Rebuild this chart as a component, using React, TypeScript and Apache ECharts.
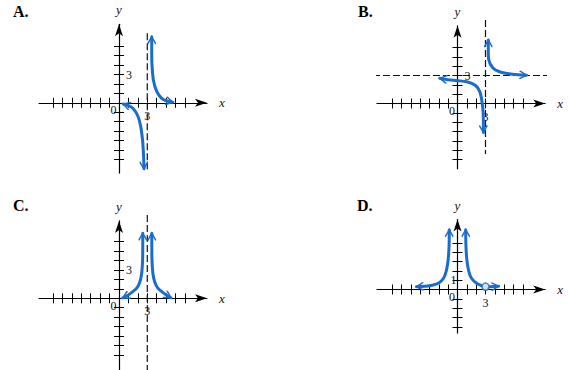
import React, { useEffect, useRef } from 'react';
import * as echarts from 'echarts';

// ---------- data ----------
const panelKeys = ['A.', 'B.', 'C.', 'D.'];

const xTicks = [-7, -6, -5, -4, -3, -2, -1, 1, 2, 3, 4, 5, 6, 7];
const yTicksABC = [-6, -5, -4, -3, -2, -1, 1, 2, 3, 4, 5, 6];
const yTicksD = [-4, -3, -2, -1, 1, 2, 3, 4, 5];
const xLabelVals = [3];
const yLabelValsABC = [3];
const yLabelValsD = [1];

// Panel A curves
const aLeft = [[0.45, -0.12], [1.0, -0.3], [1.5, -0.6], [2.0, -1.4], [2.3, -2.5], [2.5, -4.0], [2.6, -5.5], [2.65, -7.0]];
const aRight = [[3.47, 7.0], [3.47, 5.5], [3.5, 4.0], [3.65, 2.4], [4.0, 1.2], [4.5, 0.5], [5.0, 0.22], [5.7, 0.05]];
const aAsymV = [[3, 7.37], [3, -7.05]];

// Panel B curves
const bLeft = [[-1.9, 2.7], [-1.0, 2.55], [0.0, 2.45], [1.0, 2.33], [1.9, 1.95], [2.4, 1.25], [2.65, 0.0], [2.75, -1.0], [2.78, -3.1]];
const bRight = [[3.3, 6.8], [3.3, 5.7], [3.35, 4.7], [3.8, 3.8], [4.5, 3.4], [5.5, 3.18], [6.5, 3.08], [7.4, 3.04]];
const bAsymV = [[3, 8.95], [3, -5.4]];
const bAsymH = [[-9.06, 3], [9.6, 3]];

// Panel C curves
const cLeft = [[0.4, 0.05], [0.9, 0.3], [1.4, 0.65], [1.9, 1.1], [2.2, 1.7], [2.4, 2.6], [2.5, 4.0], [2.52, 5.5], [2.52, 6.9]];
const cRight = [[3.48, 6.9], [3.48, 5.5], [3.5, 4.0], [3.6, 2.6], [3.8, 1.7], [4.1, 1.1], [4.6, 0.65], [5.1, 0.3], [5.5, 0.05]];
const cAsymV = [[3, 8.83], [3, -7.6]];

// Panel D curves
const dLeft = [[-4.4, 0.3], [-3.5, 0.35], [-2.7, 0.45], [-2.0, 0.7], [-1.5, 1.2], [-1.2, 2.0], [-1.0, 3.2], [-0.9, 4.8], [-0.88, 6.4]];
const dRight = [[0.88, 6.4], [0.9, 4.8], [1.0, 3.2], [1.2, 2.0], [1.5, 1.2], [2.0, 0.7], [2.5, 0.45], [2.95, 0.3], [3.5, 0.3], [4.4, 0.35]];
const dHole = [[3, 0.3]];

// ---------- layout ----------
const BLUE = '#1a6dcc';
const SERIF = '"Liberation Serif", "DejaVu Serif", serif';
const CHEVRON = 'path://M0,0M0,14L5,7L10,14';

const panels = [
  { ox: 119, oy: 102.8, s: 9.43, xr: [-8.48, 9.33], yr: [-7.45, 8.33], yTicks: yTicksABC, yLabels: yLabelValsABC, yInside: true, tx: 13, ty: 11 },
  { ox: 457.5, oy: 103.5, s: 9.33, xr: [-8.63, 9.4], yr: [-7.0, 8.33], yTicks: yTicksABC, yLabels: yLabelValsABC, yInside: true, tx: 358, ty: 11 },
  { ox: 119, oy: 298.3, s: 9.43, xr: [-8.48, 9.33], yr: [-7.7, 8.2], yTicks: yTicksABC, yLabels: yLabelValsABC, yInside: true, tx: 13, ty: 205 },
  { ox: 457.5, oy: 289.5, s: 9.33, xr: [-8.63, 9.4], yr: [-4.66, 7.5], yTicks: yTicksD, yLabels: yLabelValsD, yInside: false, tx: 357, ty: 205 },
];

const curvesByPanel = [[aLeft, aRight], [bLeft, bRight], [cLeft, cRight], [dLeft, dRight]];
const asymByPanel = [[aAsymV], [bAsymV, bAsymH], [cAsymV], []];

function branchSeries(points: number[][], pi: number) {
  const n = points.length;
  const data = points.map((p, i) => {
    if (i === 0 || i === n - 1) {
      const q = i === 0 ? points[1] : points[n - 2];
      const ang = (Math.atan2(p[1] - q[1], p[0] - q[0]) * 180) / Math.PI;
      return {
        value: p,
        symbol: CHEVRON,
        symbolSize: [8, 14],
        symbolRotate: ang - 90,
        itemStyle: { color: 'transparent', borderColor: BLUE, borderWidth: 1.6 },
      };
    }
    return { value: p, symbol: 'none' };
  });
  return {
    type: 'line',
    xAxisIndex: pi * 2,
    yAxisIndex: pi * 2,
    data,
    smooth: 0.3,
    symbol: 'circle',
    showSymbol: true,
    clip: false,
    silent: true,
    z: 5,
    lineStyle: { color: BLUE, width: 3, cap: 'round', join: 'round' },
    itemStyle: { color: BLUE },
    emphasis: { disabled: true },
  };
}

function dashSeries(points: number[][], pi: number) {
  return {
    type: 'line',
    xAxisIndex: pi * 2,
    yAxisIndex: pi * 2,
    data: points,
    symbol: 'none',
    clip: false,
    silent: true,
    z: 3,
    lineStyle: { color: '#111', width: 1.2, type: [7, 3] },
    emphasis: { disabled: true },
  };
}

function buildOption() {
  const grid: any[] = [];
  const xAxis: any[] = [];
  const yAxis: any[] = [];
  const series: any[] = [];
  const graphic: any[] = [];

  panels.forEach((p, pi) => {
    grid.push({
      left: p.ox + p.xr[0] * p.s,
      top: p.oy - p.yr[1] * p.s,
      width: (p.xr[1] - p.xr[0]) * p.s,
      height: (p.yr[1] - p.yr[0]) * p.s,
      containLabel: false,
      outerBoundsMode: 'none',
    });
    const lineStyle = { color: '#000', width: 1.2 };
    const tickStyle = { color: '#000', width: 1 };
    const xOff = p.yr[0] * p.s; // shift bottom axis up to y = 0
    const yOff = p.xr[0] * p.s; // shift left axis right to x = 0
    // main x axis (ticks below, arrow, label, name)
    xAxis.push({
      type: 'value', gridIndex: pi, min: p.xr[0], max: p.xr[1], position: 'bottom', offset: xOff,
      axisLine: { show: true, onZero: false, symbol: ['none', 'arrow'], symbolSize: [6, 12], lineStyle },
      axisTick: { show: true, inside: false, length: 5, customValues: xTicks, lineStyle: tickStyle },
      axisLabel: { show: true, customValues: xLabelVals, margin: 7, fontFamily: SERIF, fontSize: 12, color: '#111' },
      splitLine: { show: false },
      name: 'x', nameLocation: 'end', nameGap: 12,
      nameTextStyle: { fontFamily: SERIF, fontStyle: 'italic', fontSize: 13, color: '#111', verticalAlign: 'middle' },
    });
    // secondary x axis (ticks above)
    xAxis.push({
      type: 'value', gridIndex: pi, min: p.xr[0], max: p.xr[1], position: 'bottom', offset: xOff,
      axisLine: { show: false, onZero: false },
      axisTick: { show: true, inside: true, length: 5, customValues: xTicks, lineStyle: tickStyle },
      axisLabel: { show: false },
      splitLine: { show: false },
    });
    yAxis.push({
      type: 'value', gridIndex: pi, min: p.yr[0], max: p.yr[1], position: 'left', offset: yOff,
      axisLine: { show: true, onZero: false, symbol: ['none', 'arrow'], symbolSize: [6, 12], lineStyle },
      axisTick: { show: true, inside: false, length: 5, customValues: p.yTicks, lineStyle: tickStyle },
      axisLabel: {
        show: true, customValues: p.yLabels, inside: p.yInside, margin: p.yInside ? 7 : 1,
        fontFamily: SERIF, fontSize: 12, color: '#111',
      },
      splitLine: { show: false },
      name: 'y', nameLocation: 'end', nameGap: 8,
      nameTextStyle: { fontFamily: SERIF, fontStyle: 'italic', fontSize: 13, color: '#111', align: 'center' },
    });
    yAxis.push({
      type: 'value', gridIndex: pi, min: p.yr[0], max: p.yr[1], position: 'left', offset: yOff,
      axisLine: { show: false, onZero: false },
      axisTick: { show: true, inside: true, length: 5, customValues: p.yTicks, lineStyle: tickStyle },
      axisLabel: { show: false },
      splitLine: { show: false },
    });

    asymByPanel[pi].forEach((a) => series.push(dashSeries(a, pi)));
    curvesByPanel[pi].forEach((c) => series.push(branchSeries(c, pi)));

    graphic.push({
      type: 'text', silent: true,
      style: { text: panelKeys[pi], x: p.tx, y: p.ty, font: `bold 16px ${SERIF}`, fill: '#000', textVerticalAlign: 'middle', verticalAlign: 'middle' },
    });
    graphic.push({
      type: 'text', silent: true,
      style: { text: '0', x: p.ox - 5.5, y: p.oy + 7.5, font: `12px ${SERIF}`, fill: '#111', textAlign: 'center', align: 'center', textVerticalAlign: 'middle', verticalAlign: 'middle' },
    });
  });

  series.push({
    type: 'scatter',
    xAxisIndex: 6,
    yAxisIndex: 6,
    data: dHole,
    symbol: 'circle',
    symbolSize: 7,
    z: 8,
    silent: true,
    itemStyle: { color: '#fff', borderColor: BLUE, borderWidth: 1.6 },
    emphasis: { disabled: true },
  });

  return {
    animation: false,
    backgroundColor: '#fff',
    grid, xAxis, yAxis, series, graphic,
  };
}

export default function App() {
  const ref = useRef<HTMLDivElement>(null);
  useEffect(() => {
    const chart = echarts.init(ref.current!, undefined, { renderer: 'svg' });
    chart.setOption(buildOption() as any);
    return () => chart.dispose();
  }, []);
  return <div ref={ref} style={{ position: 'absolute', left: 0, top: 0, width: 571, height: 370 }} />;
}
